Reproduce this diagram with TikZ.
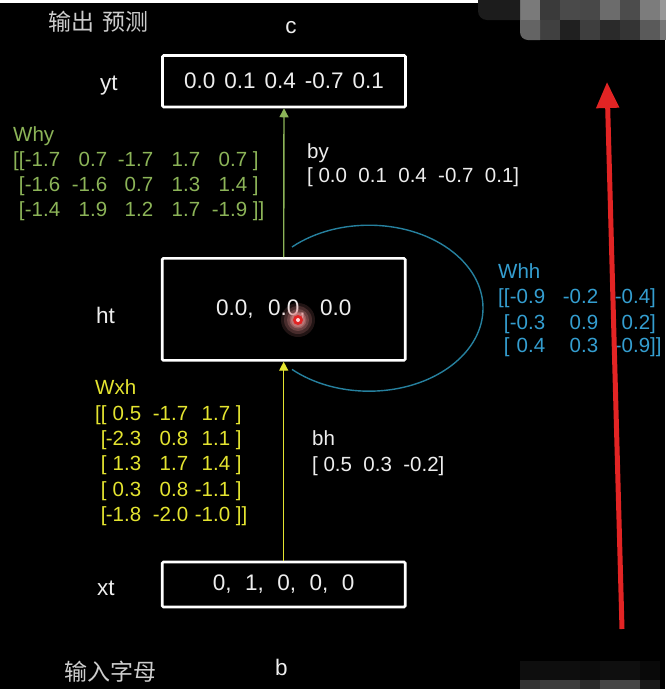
\documentclass[tikz,border=0pt]{standalone}
\usepackage{fontspec}
\setmainfont{Liberation Sans}
\newfontfamily\cjk{Noto Sans CJK SC}
\usetikzlibrary{arrows.meta}
\definecolor{fg}{RGB}{238,238,238}
\definecolor{cjkc}{RGB}{205,205,205}
\definecolor{grn}{RGB}{140,180,88}
\definecolor{yel}{RGB}{228,228,48}
\definecolor{whhc}{RGB}{52,158,208}
\definecolor{arcc}{RGB}{38,128,158}
\definecolor{redc}{RGB}{226,36,36}
\definecolor{glowc}{RGB}{225,140,140}
\begin{document}
\begin{tikzpicture}[x=1pt,y=-1pt,
  lbl/.style={text=fg, font=\fontsize{22.5}{27}\selectfont, inner sep=0pt},
  cjklbl/.style={text=cjkc, font=\cjk\fontsize{23}{27}\selectfont, inner sep=0pt, anchor=base west},
  mat/.style={font=\fontsize{20.5}{24}\selectfont, inner sep=0pt, anchor=base west},
  valbox/.style={draw=white, line width=2.6pt, rounded corners=1.2pt, text=fg,
     font=\fontsize{22.5}{27}\selectfont, inner sep=0pt, minimum width=243pt},
  flow/.style={line width=1.4pt, -{Triangle[width=9pt,length=9pt]}}]
\useasboundingbox (0,0) rectangle (665,689);
\fill[black] (0,0) rectangle (665,689);
% top white strip
\fill[white] (0,0) rectangle (478,3);
% mosaic top right
\foreach \x/\g in {540/58,560/74,580/72,600/108,620/76,640/124,660/153}
  {\definecolor{mc}{RGB}{\g,\g,\g}\fill[mc] (\x,0) rectangle ++(20,20);}
\definecolor{mz}{RGB}{122,122,122}
\fill[mz] (520,0) rectangle (540,20);
\definecolor{mz}{RGB}{28,28,28}
\fill[mz] (478,0) [rounded corners=9pt] -- (478,20) [sharp corners] -- (520,20) -- (520,0) -- cycle;
\foreach \x/\g in {540/64,560/32,580/62,600/42,620/52,640/90,660/119}
  {\definecolor{mc}{RGB}{\g,\g,\g}\fill[mc] (\x,20) rectangle ++(20,20);}
\definecolor{mz}{RGB}{100,100,100}
\fill[mz] (520,20) [rounded corners=8pt] -- (520,40) [sharp corners] -- (540,40) -- (540,20) -- cycle;
% mosaic bottom right
\foreach \x/\g in {520/14,540/14,560/14,580/12,600/15,620/15,640/9}
  {\definecolor{mc}{RGB}{\g,\g,\g}\fill[mc] (\x,661) rectangle ++(20,19);}
\foreach \x/\g in {520/51,540/60,560/60,580/43,600/69,620/69,640/26}
  {\definecolor{mc}{RGB}{\g,\g,\g}\fill[mc] (\x,680) rectangle ++(20,9);}

% titles
\node[cjklbl] (tout) at (48,30.5) {输出\hspace{8pt}预测};
\node[cjklbl] (tin) at (64,680) {输入字母};
\node[lbl, anchor=base] (cc) at (291,33) {c};
\node[lbl, anchor=base] (bb) at (281.5,675) {b};

% boxes
\node[valbox, minimum height=51.5pt] (yt) at (284,81.2)
  {0.0\hspace{9pt}0.1\hspace{9pt}0.4\hspace{9pt}-0.7\hspace{9pt}0.1};
\node[valbox, minimum height=102pt] (ht) at (283.7,309.4)
  {0.0,\hspace{14.5pt}0.0,\hspace{14.5pt}0.0};
\node[valbox, minimum height=45pt] (xt) at (283.7,584.5)
  {0,\hspace{13.5pt}1,\hspace{13.5pt}0,\hspace{13.5pt}0,\hspace{13.5pt}0};

% side labels
\node[lbl, anchor=base west] (ytl) at (100,90) {yt};
\node[lbl, anchor=base west] (htl) at (96,323) {ht};
\node[lbl, anchor=base west] (xtl) at (97,595) {xt};

% flows
\draw[flow, grn] (ht.north) -- (yt.south);
\draw[flow, yel] (xt.north) -- (ht.south);

% recurrent loop
\coordinate (arcS) at (292,247);
\draw[arcc, line width=1.4pt] (arcS) arc[start angle=-132.5, end angle=132.5, x radius=114, y radius=83];

% Why
\node[mat, text=grn] (whyl) at (13,141.4) {Why};
\node[mat, text=grn] (why1) at (13,166.5) {\rlap{[[}\makebox[47pt][r]{-1.7}\makebox[47pt][r]{0.7}\makebox[46pt][r]{-1.7}\makebox[47pt][r]{1.7}\makebox[47pt][r]{0.7}\ ]};
\node[mat, text=grn] (why2) at (13,191.5) {\rlap{\ [}\makebox[47pt][r]{-1.6}\makebox[47pt][r]{-1.6}\makebox[46pt][r]{0.7}\makebox[47pt][r]{1.3}\makebox[47pt][r]{1.4}\ ]};
\node[mat, text=grn] (why3) at (13,216.5) {\rlap{\ [}\makebox[47pt][r]{-1.4}\makebox[47pt][r]{1.9}\makebox[46pt][r]{1.2}\makebox[47pt][r]{1.7}\makebox[47pt][r]{-1.9}\ ]]};

% by
\node[mat, text=fg] (byl) at (307,158) {by};
\node[mat, text=fg] (byv) at (307,182.5) {[ 0.0\ \ 0.1\ \ 0.4\ \ -0.7\ \ 0.1]};

% Whh
\node[mat, text=whhc] (whhl) at (498,278) {Whh};
\node[mat, text=whhc] (whh1) at (498,303.5) {\rlap{[[}\makebox[47pt][r]{-0.9}\makebox[53pt][r]{-0.2}\makebox[52pt][r]{-0.4}]};
\node[mat, text=whhc] (whh2) at (498,329) {\rlap{\ [}\makebox[47pt][r]{-0.3}\makebox[53pt][r]{0.9}\makebox[52pt][r]{0.2}]};
\node[mat, text=whhc] (whh3) at (498,352.5) {\rlap{\ [}\makebox[47pt][r]{0.4}\makebox[53pt][r]{0.3}\makebox[52pt][r]{-0.9}]]};

% Wxh
\node[mat, text=yel] (wxhl) at (95,394.7) {Wxh};
\node[mat, text=yel] (wxh1) at (95,420.5) {\rlap{[[}\makebox[46pt][r]{0.5}\makebox[47pt][r]{-1.7}\makebox[42pt][r]{1.7}\ ]};
\node[mat, text=yel] (wxh2) at (95,445.5) {\rlap{\ [}\makebox[46pt][r]{-2.3}\makebox[47pt][r]{0.8}\makebox[42pt][r]{1.1}\ ]};
\node[mat, text=yel] (wxh3) at (95,470.5) {\rlap{\ [}\makebox[46pt][r]{1.3}\makebox[47pt][r]{1.7}\makebox[42pt][r]{1.4}\ ]};
\node[mat, text=yel] (wxh4) at (95,496) {\rlap{\ [}\makebox[46pt][r]{0.3}\makebox[47pt][r]{0.8}\makebox[42pt][r]{-1.1}\ ]};
\node[mat, text=yel] (wxh5) at (95,521) {\rlap{\ [}\makebox[46pt][r]{-1.8}\makebox[47pt][r]{-2.0}\makebox[42pt][r]{-1.0}\ ]]};

% bh
\node[mat, text=fg] (bhl) at (312,445.7) {bh};
\node[mat, text=fg] (bhv) at (312,471) {[ 0.5\ \ 0.3\ \ -0.2]};

% cursor highlight
\foreach \r/\o in {17/0.15,14/0.2,11/0.25,8.5/0.35,7/0.5}
  {\fill[glowc, opacity=\o] (298,320) circle (\r);}
\fill[redc] (298,320) circle (5);
\fill[white!85!red] (298,320) circle (2);

% red arrow
\coordinate (rA) at (622,629);
\coordinate (rB) at (607,82);
\draw[redc, line width=5pt, -{Triangle[width=22pt,length=26pt]}] (rA) -- (rB);
\end{tikzpicture}
\end{document}
